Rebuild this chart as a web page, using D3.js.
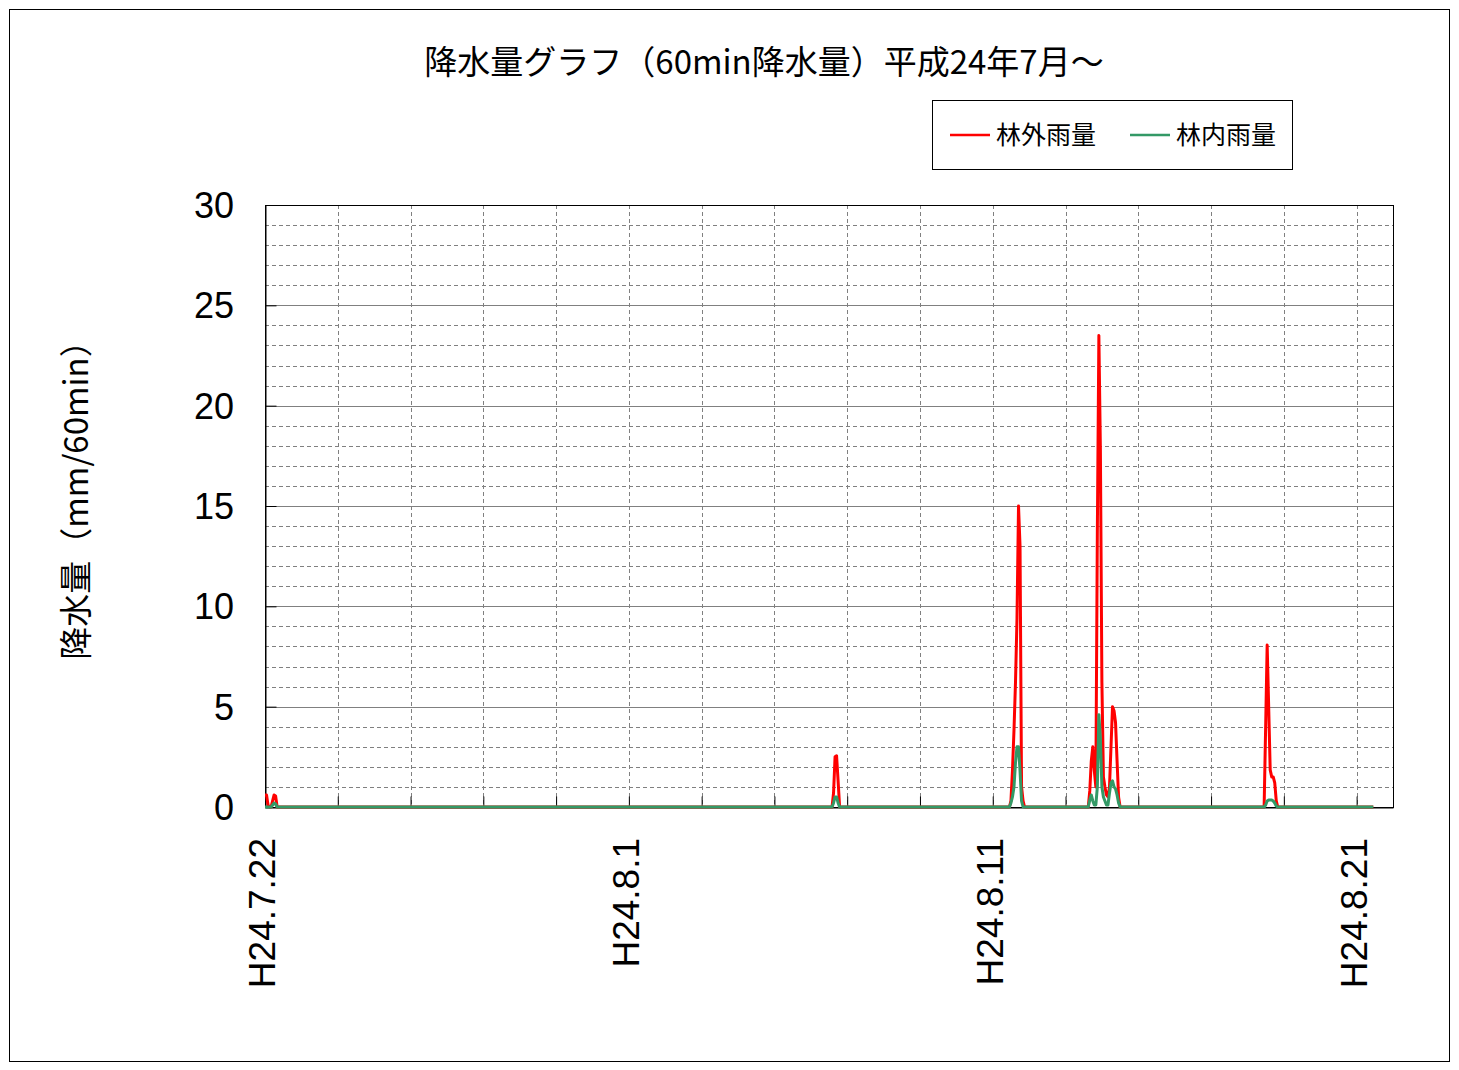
<!DOCTYPE html>
<html><head><meta charset="utf-8">
<script src="https://cdn.jsdelivr.net/npm/d3@7/dist/d3.min.js"></script>
<style>body{margin:0;background:#fff}svg{display:block}</style>
</head><body>
<svg id="chart" width="1459" height="1070"></svg>
<script>
// ---- data ----
const titleText = "降水量グラフ（60min降水量）平成24年7月～";
const yTitle = "降水量（mm/60min）";
const seriesNames = ["林外雨量", "林内雨量"];
const seriesColors = ["#ff0000", "#339966"];
const yTicks = [0, 5, 10, 15, 20, 25, 30];
const xTickLabels = ["H24.7.22", "H24.8.1", "H24.8.11", "H24.8.21"];
const xTickDays = [0, 10, 20, 30]; // days after 2012-07-22
// hours after 2012-07-22 00:00
const hours = [0,1,2,3,4,5,6,7,8,9,
  374,375,376,377,378,379,
  491,492,493,494,495,496,497,498,499,500,501,
  543,544,545,546,547,548,549,550,551,552,553,554,555,556,557,558,559,560,561,562,563,564,
  659,660,661,662,663,664,665,666,667,668,
  731];
const outsideRain = [0.6,0.6,0.1,0,0,0.3,0.6,0.55,0,0,
  0,0.7,2.5,2.55,1.3,0,
  0,0.3,1.8,3.8,6.2,9.4,15.0,13.0,1.0,0.3,0,
  0,0.8,2.3,3.0,1.8,1.0,13.8,23.5,17.8,6.2,1.5,1.0,0.6,0.5,1.0,3.0,5.0,4.8,4.2,2.3,0.5,0,
  0,4.0,8.07,5.0,1.85,1.5,1.5,1.2,0.3,0,
  0];
const insideRain = [0,0,0,0,0,0.1,0.2,0.15,0,0,
  0,0.2,0.5,0.5,0.2,0,
  0,0.2,0.5,1.0,2.2,3.0,3.0,1.8,0.3,0,0,
  0,0.35,0.6,0.3,0.1,0.1,1.0,4.6,3.4,1.0,0.5,0.3,0.1,0.1,0.7,1.2,1.3,1.0,0.9,0.6,0.2,0,
  0,0.1,0.3,0.35,0.35,0.35,0.3,0.2,0.05,0,
  0];

// ---- drawing ----
const svg = d3.select("#chart");
const cjk = "'Noto Sans CJK JP', 'Noto Sans', sans-serif";
const lat = "'Liberation Sans', Arial, sans-serif";
const L = 265, R = 1393, T = 205, B = 807;
const start = new Date(2012, 6, 22);
const end = d3.timeDay.offset(start, 31);
const x = d3.scaleTime().domain([start, end]).range([L, R]);
const y = d3.scaleLinear().domain([0, 30]).range([B, T]);

svg.append("rect").attr("x", 9.5).attr("y", 9.5).attr("width", 1440).attr("height", 1052)
  .attr("fill", "#fff").attr("stroke", "#000").attr("stroke-width", 1);

// minor horizontal grid (dashed)
const minor = d3.range(1, 30).filter(v => v % 5 !== 0);
svg.append("g").selectAll("line").data(minor).join("line")
  .attr("x1", L).attr("x2", R).attr("y1", d => Math.round(y(d)) + 0.5).attr("y2", d => Math.round(y(d)) + 0.5)
  .attr("stroke", "#808080").attr("stroke-dasharray", "4,3");
// vertical grid every 2 days (dashed)
const vDays = d3.range(2, 31, 2).map(d => d3.timeDay.offset(start, d));
svg.append("g").selectAll("line").data(vDays).join("line")
  .attr("x1", d => Math.round(x(d)) + 0.5).attr("x2", d => Math.round(x(d)) + 0.5)
  .attr("y1", T).attr("y2", B)
  .attr("stroke", "#808080").attr("stroke-dasharray", "4,3");
// major horizontal grid
svg.append("g").selectAll("line").data(yTicks.filter(v => v > 0 && v < 30)).join("line")
  .attr("x1", L).attr("x2", R).attr("y1", d => Math.round(y(d)) + 0.5).attr("y2", d => Math.round(y(d)) + 0.5)
  .attr("stroke", "#808080");

// axes (inward ticks)
const yAxis = d3.axisLeft(y).tickValues(yTicks).tickSize(-11).tickFormat("");
svg.append("g").attr("transform", `translate(${L + 0.5},0)`).call(yAxis)
  .call(g => g.selectAll("line,path").attr("stroke", "#000"));
const xAxis = d3.axisBottom(x).tickValues(vDays).tickSize(-11).tickFormat("");
svg.append("g").attr("transform", `translate(0,${B + 0.5})`).call(xAxis)
  .call(g => g.selectAll("line,path").attr("stroke", "#000"));
// frame
svg.append("rect").attr("x", L + 0.5).attr("y", T + 0.5).attr("width", R - L).attr("height", B - T)
  .attr("fill", "none").attr("stroke", "#000");

// y tick labels
svg.append("g").selectAll("text").data(yTicks).join("text")
  .attr("x", 234).attr("y", d => y(d) + 13)
  .attr("text-anchor", "end").attr("font-family", lat).attr("font-size", 36)
  .text(d => d);
// x tick labels
svg.append("g").selectAll("text").data(xTickDays).join("text")
  .attr("transform", d => `translate(${x(d3.timeDay.offset(start, d)) + 10},838) rotate(-90)`)
  .attr("text-anchor", "end").attr("font-family", lat).attr("font-size", 37)
  .text((d, i) => xTickLabels[i]);

// series lines
const pts = (vals) => hours.map((h, i) => [d3.timeHour.offset(start, h), vals[i]]);
const line = d3.line().x(d => x(d[0])).y(d => y(d[1]));
[outsideRain, insideRain].forEach((vals, i) => {
  svg.append("path").datum(pts(vals)).attr("d", line)
    .attr("fill", "none").attr("stroke", seriesColors[i]).attr("stroke-width", 3)
    .attr("stroke-linejoin", "round");
});

// title
svg.append("text").attr("x", 764).attr("y", 74).attr("text-anchor", "middle")
  .attr("font-family", cjk).attr("font-size", 33).text(titleText);
// y title
svg.append("text").attr("transform", "translate(88,492) rotate(-90)").attr("text-anchor", "middle")
  .attr("font-family", cjk).attr("font-size", 33).text(yTitle);

// legend
const lg = svg.append("g");
lg.append("rect").attr("x", 932.5).attr("y", 100.5).attr("width", 360).attr("height", 69)
  .attr("fill", "#fff").attr("stroke", "#000");
const lx = [950, 1130];
seriesNames.forEach((n, i) => {
  lg.append("line").attr("x1", lx[i]).attr("x2", lx[i] + 40).attr("y1", 135).attr("y2", 135)
    .attr("stroke", seriesColors[i]).attr("stroke-width", 2.5);
  lg.append("text").attr("x", lx[i] + 46).attr("y", 144).attr("font-family", cjk).attr("font-size", 25).text(n);
});
</script>
</body></html>
